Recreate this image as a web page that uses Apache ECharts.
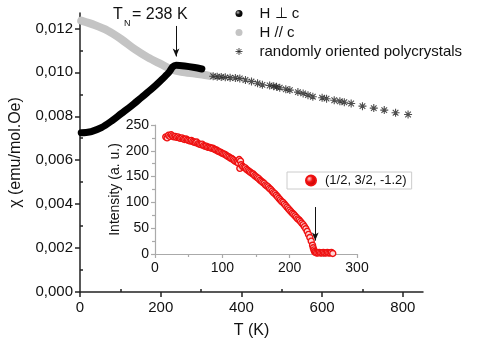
<!DOCTYPE html>
<html>
<head>
  <meta charset="utf-8">
  <title>chi(T)</title>
  <script src="https://cdn.jsdelivr.net/npm/echarts@6/dist/echarts.min.js"></script>
</head>
<body style="margin:0">
  <div id="main" style="width: 490px;height:348px;"></div>
  <script type="text/javascript">
    // H perpendicular c (black)
    var tPerp = [3, 15, 28, 53, 78, 102, 127, 152, 177, 201, 220, 230, 238, 259, 284, 302];
    var chiPerp = [0.00725, 0.00726, 0.00730, 0.00748, 0.00778, 0.00812, 0.00847, 0.00885, 0.00923, 0.00964, 0.00999, 0.01025, 0.01032, 0.01029, 0.01022, 0.01015];
    // H parallel c (grey)
    var tPar = [3, 36, 69, 102, 135, 168, 201, 226, 251, 284, 309, 321];
    var chiPar = [0.01235, 0.01215, 0.01189, 0.01151, 0.01106, 0.01068, 0.01037, 0.01014, 0.01002, 0.00994, 0.00988, 0.00984];
    // polycrystals (stars)
    var tPoly = [330, 340, 350, 360, 372, 385, 396, 410, 425, 440, 452, 470, 480, 487, 495, 510, 520, 540, 553, 565, 577, 600, 611, 630, 644, 655, 672, 700, 728, 754, 782, 813];
    var chiPoly = [0.00982, 0.00980, 0.00979, 0.00977, 0.00975, 0.00974, 0.00972, 0.00965, 0.00958, 0.00950, 0.00943, 0.00940, 0.00937, 0.00934, 0.00930, 0.00923, 0.00919, 0.00910, 0.00904, 0.00896, 0.00889, 0.00884, 0.00880, 0.00873, 0.00868, 0.00864, 0.00858, 0.00846, 0.00837, 0.00828, 0.00816, 0.00808];
    // inset: neutron intensity of the (1/2, 3/2, -1.2) peak
    var tInt = [16, 18, 20, 22, 24, 26, 28, 30, 32, 34, 36, 38, 40, 42, 44, 46, 48, 50, 52, 54, 56, 58, 60, 62, 64, 66, 68, 70, 72, 74, 76, 78, 80, 82, 84, 86, 88, 90, 92, 94, 96, 98, 100, 102, 104, 106, 108, 110, 112, 114, 116, 118, 120, 122, 124, 125, 126, 127, 128, 130, 132, 134, 136, 138, 140, 142, 144, 146, 148, 150, 152, 154, 156, 158, 160, 162, 164, 166, 168, 170, 172, 174, 176, 178, 180, 182, 184, 186, 188, 190, 192, 194, 196, 198, 200, 202, 204, 206, 208, 210, 212, 214, 216, 218, 220, 222, 224, 226, 228, 230, 232, 234, 235, 236, 237, 238, 240, 242, 244, 246, 248, 250, 252, 254, 256, 258, 260, 262, 264];
    var intensity = [227, 225, 230, 228, 231, 229, 227, 228, 226, 227, 225, 224, 225, 223, 222, 223, 221, 220, 219, 220, 218, 217, 216, 217, 214, 213, 212, 213, 210, 209, 209, 207, 207, 206, 205, 205, 203, 202, 201, 199, 198, 197, 195, 194, 193, 191, 189, 188, 186, 185, 183, 181, 179, 178, 176, 183, 166, 180, 173, 170, 168, 167, 164, 162, 160, 158, 156, 155, 152, 150, 148, 146, 143, 141, 139, 137, 134, 132, 130, 127, 125, 122, 119, 117, 114, 111, 108, 105, 102, 100, 97, 94, 91, 88, 85, 82, 79, 77, 74, 71, 68, 66, 63, 60, 57, 53, 49, 44, 38, 32, 25, 17, 12, 8, 5, 3, 2, 2, 3, 2, 2, 3, 2, 2, 3, 2, 2, 3, 1];

    var xMainLabels = [0, 200, 400, 600, 800];
    var xMainMinor = [100, 300, 500, 700];
    var yMainLabels = [0, 0.002, 0.004, 0.006, 0.008, 0.010, 0.012];
    var yMainMinor = [0.001, 0.003, 0.005, 0.007, 0.009, 0.011];
    var TN = 238;

    function pairs(xs, ys) {
      return xs.map(function (x, i) { return [x, ys[i]]; });
    }

    var starPath = 'path://M0,5L10,5M5,0L5,10M1.5,1.5L8.5,8.5M8.5,1.5L1.5,8.5';
    var blackBall = { type: 'radial', x: 0.35, y: 0.35, r: 0.7, colorStops: [{ offset: 0, color: '#bbb' }, { offset: 0.45, color: '#111' }, { offset: 1, color: '#000' }] };
    var redBall = { type: 'radial', x: 0.35, y: 0.35, r: 0.7, colorStops: [{ offset: 0, color: '#ffd0d0' }, { offset: 0.4, color: '#f01010' }, { offset: 1, color: '#b00000' }] };

    var myChart = echarts.init(document.getElementById('main'));
    var axisMain = { color: '#222', width: 1.5 };
    var axisInset = { color: '#aaa', width: 1.2 };

    myChart.setOption({
      animation: false,
      backgroundColor: '#fff',
      textStyle: { fontFamily: 'Liberation Sans, Arial, sans-serif' },
      grid: [
        { left: 80, right: 67, top: 13, bottom: 56 },
        { left: 155, right: 133, top: 125, bottom: 94 }
      ],
      xAxis: [{
        type: 'value', gridIndex: 0, min: 0, max: 850,
        name: 'T (K)', nameLocation: 'middle', nameGap: 31,
        nameTextStyle: { fontSize: 16, color: '#111' },
        axisLine: { lineStyle: axisMain },
        axisTick: { length: 5, lineStyle: axisMain, customValues: xMainLabels },
        axisLabel: { fontSize: 15, color: '#111', margin: 8, customValues: xMainLabels },
        splitLine: { show: false }
      }, {
        type: 'value', gridIndex: 0, min: 0, max: 850,
        axisLine: { show: false },
        axisTick: { length: 3, lineStyle: axisMain, customValues: xMainMinor },
        axisLabel: { show: false },
        splitLine: { show: false }
      }, {
        type: 'value', gridIndex: 1, min: 0, max: 300, interval: 100,
        axisLine: { lineStyle: axisInset },
        axisTick: { length: 4, lineStyle: axisInset },
        minorTick: { show: true, splitNumber: 2, length: 3, lineStyle: axisInset },
        axisLabel: { fontSize: 14, color: '#111', margin: 7 },
        splitLine: { show: false }
      }],
      yAxis: [{
        type: 'value', gridIndex: 0, min: 0, max: 0.0127,
        name: 'χ (emu/mol.Oe)', nameLocation: 'middle', nameGap: 56,
        nameTextStyle: { fontSize: 16, color: '#111' },
        axisLine: { show: true, lineStyle: axisMain },
        axisTick: { show: true, length: 5, lineStyle: axisMain, customValues: yMainLabels },
        axisLabel: {
          fontSize: 15, color: '#111', margin: 7, customValues: yMainLabels,
          formatter: function (v) { return v.toFixed(3).replace('.', ','); }
        },
        splitLine: { show: false }
      }, {
        type: 'value', gridIndex: 0, min: 0, max: 0.0127,
        axisLine: { show: false },
        axisTick: { show: true, length: 3, lineStyle: axisMain, customValues: yMainMinor },
        axisLabel: { show: false },
        splitLine: { show: false }
      }, {
        type: 'value', gridIndex: 1, min: 0, max: 250, interval: 50,
        name: 'Intensity (a. u.)', nameLocation: 'middle', nameGap: 32,
        nameTextStyle: { fontSize: 14, color: '#111' },
        axisLine: { show: true, lineStyle: axisInset },
        axisTick: { show: true, length: 4, lineStyle: axisInset },
        minorTick: { show: true, splitNumber: 2, length: 3, lineStyle: axisInset },
        axisLabel: { fontSize: 14, color: '#111', margin: 6 },
        splitLine: { show: false }
      }],
      legend: [{
        left: 233, top: 6, padding: 0, orient: 'vertical', itemGap: 4,
        itemWidth: 7, itemHeight: 7,
        textStyle: { fontSize: 15, color: '#111', padding: [0, 0, 0, 12] },
        data: [
          { name: 'H ⊥ c', icon: 'circle', itemStyle: { color: blackBall } },
          { name: 'H // c', icon: 'circle', itemStyle: { color: '#c4c4c4' } },
          { name: 'randomly oriented polycrystals', icon: starPath, itemStyle: { color: 'none', borderColor: '#222', borderWidth: 1 } }
        ]
      }, {
        left: 287, top: 172, padding: [2, 5, 2, 18], orient: 'vertical',
        borderColor: '#ccc', borderWidth: 1,
        itemWidth: 10, itemHeight: 10,
        textStyle: { fontSize: 13, color: '#111', padding: [0, 0, 0, 4] },
        data: [{ name: '(1/2, 3/2, -1.2)', icon: 'circle', itemStyle: { color: redBall } }]
      }],
      graphic: [
        { type: 'text', left: 113, top: 7, style: { text: 'T', fontSize: 16, fill: '#111', fontFamily: 'Liberation Sans' } },
        { type: 'text', left: 124, top: 19, style: { text: 'N', fontSize: 9, fill: '#111', fontFamily: 'Liberation Sans' } },
        { type: 'text', left: 132, top: 7, style: { text: '= 238 K', fontSize: 16, fill: '#111', fontFamily: 'Liberation Sans' } }
      ],
      series: [{
        name: 'H // c', type: 'line', xAxisIndex: 0, yAxisIndex: 0,
        data: pairs(tPar, chiPar), smooth: 0.3, showSymbol: false,
        itemStyle: { color: '#c4c4c4' },
        lineStyle: { color: '#c4c4c4', width: 8, cap: 'round' }, z: 2
      }, {
        name: 'H ⊥ c', type: 'line', xAxisIndex: 0, yAxisIndex: 0,
        data: pairs(tPerp, chiPerp), smooth: 0.3, showSymbol: false,
        itemStyle: { color: '#000' },
        lineStyle: { color: '#000', width: 7, cap: 'round' }, z: 3,
        markLine: {
          silent: true, symbol: ['none', 'arrow'], symbolSize: [5, 8],
          lineStyle: { color: '#111', width: 1, type: 'solid' }, label: { show: false },
          data: [[{ coord: [TN, 0.01211] }, { coord: [TN, 0.01072] }]]
        }
      }, {
        name: 'randomly oriented polycrystals', type: 'scatter', xAxisIndex: 0, yAxisIndex: 0,
        data: pairs(tPoly, chiPoly), symbol: starPath, symbolSize: 8, symbolKeepAspect: true,
        itemStyle: { color: 'none', borderColor: '#222', borderWidth: 1.1 }, z: 4
      }, {
        name: '(1/2, 3/2, -1.2)', type: 'scatter', xAxisIndex: 2, yAxisIndex: 2,
        data: pairs(tInt, intensity), symbol: 'circle', symbolSize: 6,
        itemStyle: { color: '#ffd6d6', borderColor: '#ee1111', borderWidth: 1.4, opacity: 1 }, z: 4,
        markLine: {
          silent: true, symbol: ['none', 'arrow'], symbolSize: [5, 8],
          lineStyle: { color: '#111', width: 1, type: 'solid' }, label: { show: false },
          data: [[{ coord: [TN, 91] }, { coord: [TN, 26] }]]
        }
      }]
    });
  </script>
</body>
</html>
